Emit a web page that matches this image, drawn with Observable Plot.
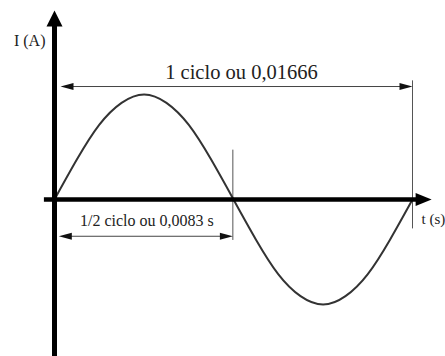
<!DOCTYPE html>
<html>
<head>
<meta charset="utf-8">
<script src="https://cdn.jsdelivr.net/npm/d3@7"></script>
<script src="https://cdn.jsdelivr.net/npm/@observablehq/plot@0.6"></script>
<style>
  html, body { margin: 0; padding: 0; background: #fff; }
</style>
</head>
<body>
<div id="chart"></div>
<script>
// One cycle of alternating current, period in seconds
const period = 0.01666;
const halfPeriod = 0.0083;

// Sampled points of the current waveform (t in s, I normalised to the peak)
const sampleT = [0, 0.00104, 0.00208, 0.00312, 0.00417, 0.00521, 0.00625, 0.00729, 0.00833,
                 0.00937, 0.01041, 0.01145, 0.0125, 0.01354, 0.01458, 0.01562, 0.01666];
const sampleI = [0, 0.38, 0.71, 0.92, 1, 0.92, 0.71, 0.38, 0,
                 -0.38, -0.71, -0.92, -1, -0.92, -0.71, -0.38, 0];

// Extents of the drawn axes (data units)
const iAxisExtent = [-1.6, 1.8];
const tAxisExtent = [-0.00047, 0.01755];

// Dimension lines: level, start and end
const cycleLevel = 1.076;
const cycleStart = 0.00028;
const halfLevel = -0.35;
const halfStart = 0.0002;
const cycleTick = [-0.28, 1.13];
const halfTick = [-0.39, 0.47];

// Texts
const labelI = "I (A)";
const labelT = "t (s)";
const labelCycle = "1 ciclo ou 0,01666";
const labelHalf = "1/2 ciclo ou 0,0083 s";

const series = sampleT.map((t, k) => ({t, i: sampleI[k]}));

// Filled arrowhead pointing along +x with its tip at the dot position
const head = (length, halfWidth) => ({
  draw(context) {
    context.moveTo(0, 0);
    context.lineTo(-length, -halfWidth);
    context.lineTo(-length, halfWidth);
    context.closePath();
  }
});

const bigHeadV = head(16, 8);
const bigHeadH = head(16, 6.5);
const smallHead = head(13, 3.5);

const serif = "'Liberation Serif', 'Times New Roman', serif";

const chart = Plot.plot({
  width: 445,
  height: 356,
  margin: 0,
  x: {domain: [0, period], range: [54, 412], axis: null},
  y: {domain: [-1, 1], range: [304, 94], axis: null},
  style: {background: "white", fontFamily: serif, overflow: "visible"},
  marks: [
    // vertical dimension ticks
    Plot.ruleX([period], {y1: cycleTick[0], y2: cycleTick[1], stroke: "#555", strokeWidth: 1}),
    Plot.ruleX([halfPeriod], {y1: halfTick[0], y2: halfTick[1], stroke: "#555", strokeWidth: 1}),
    // dimension lines
    Plot.ruleY([cycleLevel], {x1: cycleStart + 0.0005, x2: period - 0.0005, stroke: "#444", strokeWidth: 1}),
    Plot.ruleY([halfLevel], {x1: halfStart + 0.0005, x2: halfPeriod - 0.0005, stroke: "#444", strokeWidth: 1}),
    Plot.dot([
      {t: cycleStart, i: cycleLevel, r: 180},
      {t: period, i: cycleLevel, r: 0},
      {t: halfStart, i: halfLevel, r: 180},
      {t: halfPeriod, i: halfLevel, r: 0}
    ], {x: "t", y: "i", rotate: "r", symbol: smallHead, fill: "#111", stroke: "none"}),
    // waveform
    Plot.line(series, {x: "t", y: "i", curve: "natural", stroke: "#333", strokeWidth: 2}),
    // axes
    Plot.ruleX([0], {y1: iAxisExtent[0], y2: iAxisExtent[1] - 0.1, stroke: "black", strokeWidth: 5}),
    Plot.ruleY([0], {x1: tAxisExtent[0], x2: tAxisExtent[1] - 0.0005, stroke: "black", strokeWidth: 4.5}),
    Plot.dot([{t: 0, i: iAxisExtent[1]}], {x: "t", y: "i", rotate: -90, symbol: bigHeadV, fill: "black", stroke: "none"}),
    Plot.dot([{t: tAxisExtent[1], i: 0}], {x: "t", y: "i", rotate: 0, symbol: bigHeadH, fill: "black", stroke: "none"}),
    // labels
    Plot.text([labelI], {x: 0, y: 1.514, text: d => d, dx: -9, textAnchor: "end", fontSize: 16, fontFamily: serif, fill: "#222"}),
    Plot.text([labelT], {x: 0.01708, y: -0.19, text: d => d, textAnchor: "start", fontSize: 15, fontFamily: serif, fill: "#222"}),
    Plot.text([labelCycle], {x: period / 2, y: 1.21, text: d => d, dx: 8, fontSize: 20.5, fontFamily: serif, fill: "#222"}),
    Plot.text([labelHalf], {x: 0.0043, y: -0.2, text: d => d, fontSize: 16, fontFamily: serif, fill: "#222"})
  ]
});

document.getElementById("chart").appendChild(chart);
</script>
</body>
</html>
